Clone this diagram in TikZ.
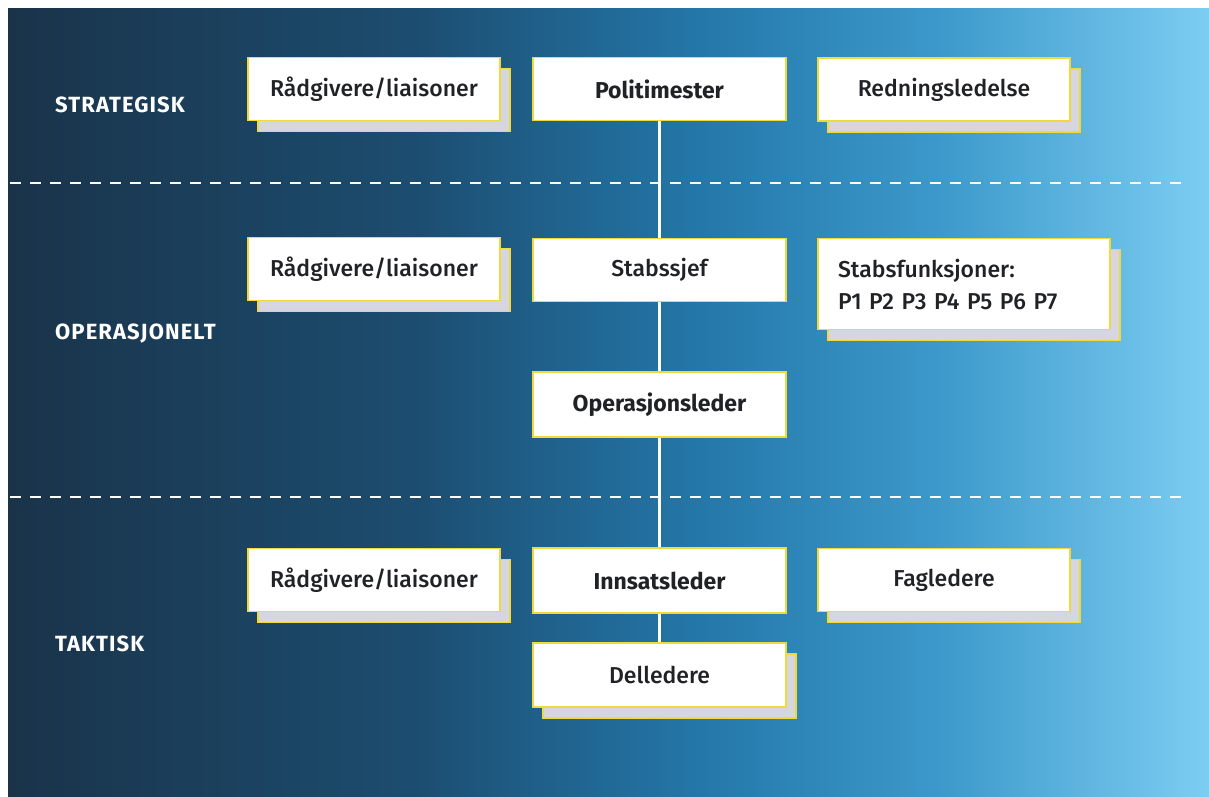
\documentclass[tikz,border=0pt]{standalone}
\usepackage{fontspec}
\setmainfont{Fira Sans}[UprightFont=* Medium, BoldFont=* Bold]
\newfontfamily\levelfont{Fira Sans}[UprightFont=* Bold, LetterSpace=5]
\usetikzlibrary{shadows}

\definecolor{bgA}{HTML}{1A3349}
\definecolor{bgB}{HTML}{1C4D70}
\definecolor{bgC}{HTML}{2478AA}
\definecolor{bgD}{HTML}{3D9ACB}
\definecolor{bgE}{HTML}{7CCDF2}
\definecolor{boxyellow}{HTML}{F0D93A}
\definecolor{shadowgrey}{HTML}{D6D6E0}
\definecolor{boxtext}{HTML}{202225}

% TikZ maps 25bp..75bp of a custom shading onto the filled path
\pgfdeclarehorizontalshading{levelbg}{100bp}{
  color(0bp)=(bgA); color(25bp)=(bgA); color(42bp)=(bgB);
  color(54bp)=(bgC); color(64bp)=(bgD); color(75bp)=(bgE);
  color(100bp)=(bgE)}

\tikzset{
  role/.style={draw=boxyellow, line width=1.4pt, fill=white,
    minimum width=252pt, minimum height=63pt, inner sep=0pt,
    text=boxtext, font=\fontsize{23}{32}\selectfont},
  chief/.style={font=\fontsize{23}{32}\selectfont\bfseries},
  stacked/.style={copy shadow={shadow xshift=10pt, shadow yshift=-11pt,
    fill=shadowgrey, draw=boxyellow, line width=1.4pt}},
  level/.style={anchor=west, text=white, inner sep=0pt,
    font=\fontsize{22}{26}\selectfont\levelfont},
  sep/.style={white, line width=1.6pt, dash pattern=on 11pt off 9pt},
  chain/.style={white, line width=2.2pt}
}

\begin{document}
\begin{tikzpicture}[x=1pt, y=-1pt]
  \useasboundingbox (0,0) rectangle (1209,796);
  \fill[white] (0,0) rectangle (1209,796);
  \shade[shading=levelbg] (8,8) rectangle (1209,796);

  % level separators
  \coordinate (s1a) at (10,183);  \coordinate (s1b) at (1182,183);
  \coordinate (s2a) at (10,497);  \coordinate (s2b) at (1182,497);
  \draw[sep] (s1a) -- (s1b);
  \draw[sep] (s2a) -- (s2b);

  % level names
  \node[level] (strat) at (55,105) {STRATEGISK};
  \node[level] (oper)  at (55,334) {OPERASJONELT};
  \node[level] (takt)  at (55,644) {TAKTISK};

  % vertical chain, drawn first so the boxes cover it
  \coordinate (ctop) at (659.5,120);
  \coordinate (cbot) at (659.5,643);
  \draw[chain] (ctop) -- (cbot);

  % command chain nodes (centre column)
  \node[role, chief, minimum width=253pt] (pm) at (659.5,89) {Politimester};
  \node[role, minimum width=253pt] (ss) at (659.5,270) {Stabssjef};
  \node[role, chief, minimum width=253pt, minimum height=65pt] (ol) at (659.5,404.5) {Operasjonsleder};
  \node[role, chief, minimum width=253pt, minimum height=65pt] (il) at (659.5,580.5) {Innsatsleder};
  \node[role, stacked, minimum width=253pt, minimum height=64pt] (dl) at (659.5,675) {Delledere};

  % advisers, left column
  \node[role, stacked] (r1) at (374,89) {Rådgivere/liaisoner};
  \node[role, stacked] (r2) at (374,269) {Rådgivere/liaisoner};
  \node[role, stacked] (r3) at (374,580) {Rådgivere/liaisoner};

  % right column
  \node[role, stacked] (rl) at (944,89.5) {Redningsledelse};
  \node[role, stacked, minimum width=292pt, minimum height=91pt,
        align=left, text width=252pt, inner xsep=20pt] (sf) at (964,284)
        {Stabsfunksjoner:\\P1 P2 P3 P4 P5 P6 P7};
  \node[role, stacked] (fl) at (944,580) {Fagledere};
\end{tikzpicture}
\end{document}
